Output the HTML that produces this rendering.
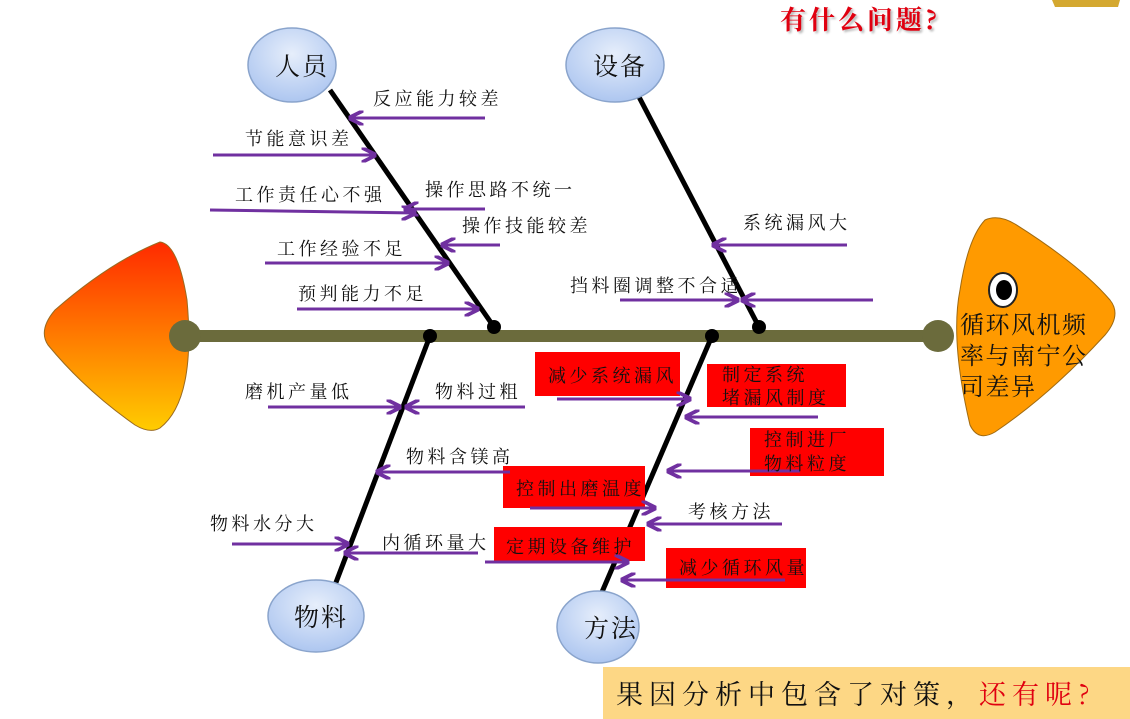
<!DOCTYPE html>
<html><head><meta charset="utf-8"><style>
html,body{margin:0;padding:0;background:#fff;}
svg{display:block;font-family:"Noto Serif CJK SC","Liberation Serif",serif;}
.l{font-size:18px;fill:#111;letter-spacing:3.5px;}
</style></head><body>
<svg width="1130" height="719" viewBox="0 0 1130 719" xmlns="http://www.w3.org/2000/svg">
<defs>
<linearGradient id="tail" x1="0" y1="0" x2="0" y2="1">
<stop offset="0" stop-color="#ff2a00"/><stop offset="1" stop-color="#ffcc00"/></linearGradient>
<radialGradient id="ell" cx="0.5" cy="0.35" r="0.7">
<stop offset="0" stop-color="#e6eefb"/><stop offset="1" stop-color="#a9c3ef"/></radialGradient>
<marker id="ar" viewBox="0 0 10 10" refX="9" refY="5" markerWidth="5" markerHeight="5" orient="auto-start-reverse">
<path d="M0,0 L10,5 L0,10" fill="none" stroke="#7030a0" stroke-width="2.5"/></marker>
</defs>
<text x="780" y="29" font-size="26" font-weight="bold" fill="#e00010" letter-spacing="3" style="text-shadow:2px 2px 2px #bbb">有什么问题?</text>
<path d="M1052,0 L1120,0 L1118,7 L1055,7Z" fill="#d4a830"/>
<path d="M160,242 Q178,244 187,300 Q196,400 160,428 Q150,434 135,425 Q85,390 48,345 Q38,330 55,310 Q110,262 160,242Z" fill="url(#tail)" stroke="#9a6a20" stroke-width="1"/>
<path d="M985,220 Q998,214 1015,224 Q1080,265 1110,300 Q1122,315 1105,335 Q1050,395 995,432 Q978,442 970,425 Q950,340 960,290 Q968,238 985,220Z" fill="#ff9a00" stroke="#a06a10" stroke-width="1"/>
<ellipse cx="1003" cy="290" rx="14" ry="17" fill="#fff" stroke="#222" stroke-width="2"/>
<ellipse cx="1004" cy="290" rx="8" ry="10" fill="#000"/>
<g font-size="24" fill="#111" letter-spacing="1.5">
<text x="960" y="333">循环风机频</text>
<text x="960" y="364">率与南宁公</text>
<text x="960" y="395">司差异</text>
</g>
<line x1="185" y1="336" x2="938" y2="336" stroke="#6b6b3c" stroke-width="12"/>
<circle cx="185" cy="336" r="16" fill="#6b6b3c"/>
<circle cx="938" cy="336" r="16" fill="#6b6b3c"/>
<g stroke="#000" stroke-width="5">
<line x1="330" y1="90" x2="494" y2="327"/>
<line x1="638" y1="95" x2="759" y2="327"/>
<line x1="430" y1="336" x2="335" y2="585"/>
<line x1="712" y1="336" x2="602" y2="592"/>
</g>
<circle cx="494" cy="327" r="7"/><circle cx="759" cy="327" r="7"/>
<circle cx="430" cy="336" r="7"/><circle cx="712" cy="336" r="7"/>
<g fill="url(#ell)" stroke="#8aa4cc" stroke-width="1.5">
<ellipse cx="292" cy="65" rx="44" ry="37"/>
<ellipse cx="615" cy="65" rx="49" ry="37"/>
<ellipse cx="316" cy="616" rx="48" ry="36"/>
<ellipse cx="598" cy="627" rx="41" ry="36"/>
</g>
<g font-size="25" fill="#111" letter-spacing="2">
<text x="275" y="75">人员</text>
<text x="593" y="75">设备</text>
<text x="294" y="626">物料</text>
<text x="584" y="637">方法</text>
</g>
<g fill="#ff0000">
<rect x="535" y="352" width="145" height="44"/>
<rect x="707" y="364" width="139" height="43"/>
<rect x="750" y="428" width="134" height="48"/>
<rect x="503" y="466" width="142" height="42"/>
<rect x="494" y="527" width="151" height="34"/>
<rect x="666" y="548" width="140" height="40"/>
</g>
<g stroke="#7030a0" stroke-width="3" marker-end="url(#ar)" fill="none">
<line x1="485" y1="118" x2="350" y2="118"/>
<line x1="213" y1="155" x2="375" y2="155"/>
<line x1="210" y1="210" x2="415" y2="213"/>
<line x1="485" y1="209" x2="405" y2="209"/>
<line x1="500" y1="245" x2="442" y2="245"/>
<line x1="265" y1="263" x2="448" y2="263"/>
<line x1="297" y1="309" x2="478" y2="309"/>
<line x1="847" y1="245" x2="713" y2="245"/>
<line x1="620" y1="300" x2="738" y2="300"/>
<line x1="873" y1="300" x2="742" y2="300"/>
<line x1="268" y1="407" x2="400" y2="407"/>
<line x1="525" y1="407" x2="406" y2="407"/>
<line x1="510" y1="472" x2="377" y2="472"/>
<line x1="232" y1="544" x2="348" y2="544"/>
<line x1="478" y1="553" x2="345" y2="553"/>
<line x1="557" y1="399" x2="690" y2="399"/>
<line x1="818" y1="417" x2="686" y2="417"/>
<line x1="800" y1="471" x2="668" y2="471"/>
<line x1="530" y1="508" x2="655" y2="508"/>
<line x1="782" y1="524" x2="648" y2="524"/>
<line x1="485" y1="562" x2="628" y2="562"/>
<line x1="785" y1="580" x2="622" y2="580"/>
</g>
<g class="l">
<text x="373" y="105">反应能力较差</text>
<text x="245" y="145">节能意识差</text>
<text x="235" y="201">工作责任心不强</text>
<text x="425" y="196">操作思路不统一</text>
<text x="462" y="232">操作技能较差</text>
<text x="277" y="255">工作经验不足</text>
<text x="298" y="300">预判能力不足</text>
<text x="743" y="229">系统漏风大</text>
<text x="570" y="292">挡料圈调整不合适</text>
<text x="245" y="398">磨机产量低</text>
<text x="435" y="398">物料过粗</text>
<text x="406" y="463">物料含镁高</text>
<text x="210" y="530">物料水分大</text>
<text x="382" y="549">内循环量大</text>
<text x="688" y="518">考核方法</text>
<text x="548" y="382">减少系统漏风</text>
<text x="722" y="381">制定系统</text>
<text x="722" y="404">堵漏风制度</text>
<text x="764" y="446">控制进厂</text>
<text x="764" y="470">物料粒度</text>
<text x="516" y="495">控制出磨温度</text>
<text x="506" y="553">定期设备维护</text>
<text x="679" y="574">减少循环风量</text>
</g>
<rect x="603" y="667" width="527" height="52" fill="#fdd785"/>
<text x="616" y="704" font-size="27" fill="#111" letter-spacing="6">果因分析中包含了对策，<tspan fill="#e00010">还有呢?</tspan></text>
</svg>
</body></html>
